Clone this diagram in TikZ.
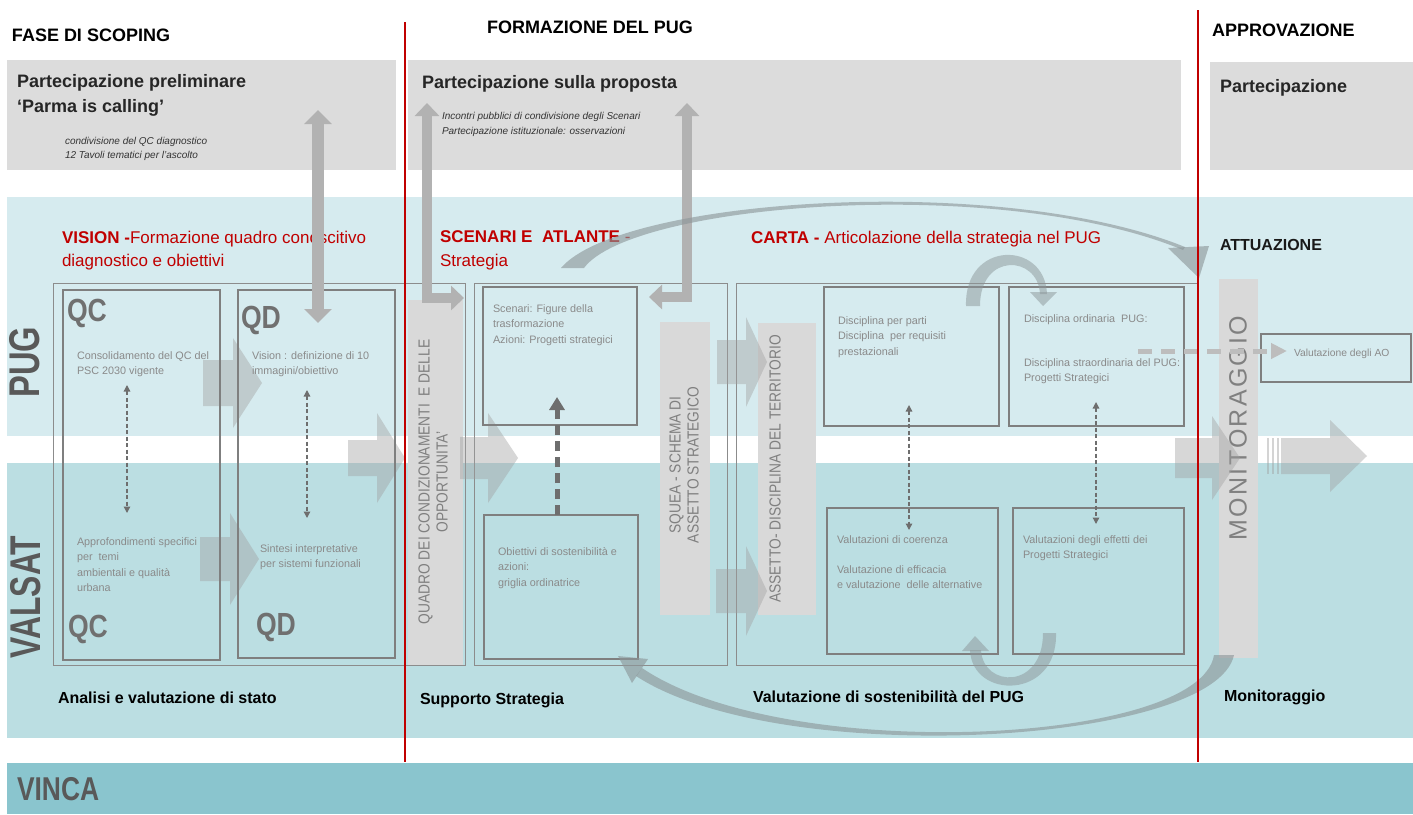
\documentclass[tikz,border=0pt]{standalone}
\usepackage{fontspec}
\usepackage{graphicx}
\setmainfont{Liberation Sans}
\usetikzlibrary{arrows.meta}

\definecolor{partgrey}{HTML}{DCDCDC}
\definecolor{pugband}{HTML}{D6EBEF}
\definecolor{valband}{HTML}{BBDEE2}
\definecolor{vincaband}{HTML}{8AC5CE}
\definecolor{colgrey}{HTML}{D9D9D9}
\definecolor{framegrey}{HTML}{8C8C8C}
\definecolor{boxgrey}{HTML}{7F7F7F}
\definecolor{txtgrey}{HTML}{8A8A8A}
\definecolor{coltxt}{HTML}{808080}
\definecolor{qcgrey}{HTML}{707070}
\definecolor{bigtxt}{HTML}{595959}
\definecolor{redc}{HTML}{C00000}
\definecolor{notek}{HTML}{333333}
\definecolor{arrowfill}{HTML}{A0A0A0}
\definecolor{partarr}{HTML}{B2B2B2}
\definecolor{dashgrey}{HTML}{6E6E6E}
\definecolor{lightdash}{HTML}{BDBDBD}
\definecolor{arcfill}{HTML}{8C9699}

\newcommand\fsz[2]{\fontsize{#1}{#2}\selectfont}
\newcommand\txtlines[1]{\begin{tabular}[t]{@{}l@{}}#1\end{tabular}}
\newcommand\ctxtlines[1]{\begin{tabular}{@{}c@{}}#1\end{tabular}}
% rectangle node from its two corners (pixel-like units)
\newcommand\rectnode[6]{\node[#1, anchor=north west, inner sep=0pt, outer sep=0pt,
  minimum width={#5pt-#3pt}, minimum height={#6pt-#4pt}] (#2) at (#3,#4) {};}
% horizontal block arrow: x start, x tip, y centre, shaft half, head half, head length
\newcommand\blockarrow[6]{\fill[blockar] (#1,#3-#4) -- (#2-#6,#3-#4) -- (#2-#6,#3-#5)
  -- (#2,#3) -- (#2-#6,#3+#5) -- (#2-#6,#3+#4) -- (#1,#3+#4) -- cycle;}

\tikzset{
  partbox/.style={fill=partgrey},
  frame/.style={draw=framegrey, line width=0.9pt},
  ibox/.style={draw=boxgrey, line width=2.8pt},
  column/.style={fill=colgrey},
  txt/.style={inner sep=0pt, outer sep=0pt},
  phase/.style={txt, anchor=base west, font=\bfseries\fsz{18}{22}, text=black},
  parttitle/.style={txt, anchor=base west, font=\bfseries\fsz{18}{25}, text=black!85},
  partnote/.style={txt, anchor=base west, font=\itshape\fsz{10}{14.5}, text=notek},
  redtitle/.style={txt, anchor=base west, font=\fsz{17}{23.5}, text=redc},
  bottomlabel/.style={txt, anchor=base west, font=\bfseries\fsz{16}{20}, text=black},
  boxtext/.style={txt, anchor=base west, font=\fsz{10.8}{15.5}, text=txtgrey},
  coltext/.style={txt, rotate=90, font=\fsz{16}{18}, text=coltxt},
  bigqc/.style={txt, anchor=base west, font=\bfseries\fsz{32}{32}, text=qcgrey},
  sidelabel/.style={txt, rotate=90, font=\bfseries\fsz{43}{43}, text=bigtxt},
  blockar/.style={fill=arrowfill, fill opacity=0.42},
  partarrow/.style={draw=partarr, line width=12pt, line join=miter,
    {Triangle[width=27pt,length=14pt]}-{Triangle[width=27pt,length=14pt]}},
  partarrowL/.style={draw=partarr, line width=10pt, line join=miter,
    {Triangle[width=24pt,length=13pt]}-{Triangle[width=24pt,length=13pt]}},
  dasharrow/.style={draw=dashgrey, line width=1.3pt, dash pattern=on 4pt off 2.5pt,
    {Triangle[width=6.5pt,length=6.5pt]}-{Triangle[width=6.5pt,length=6.5pt]}},
  thickdash/.style={draw=dashgrey, line width=5pt, dash pattern=on 10pt off 6pt,
    -{Triangle[width=15pt,length=13pt]}},
  lightdasharrow/.style={draw=lightdash, line width=5pt, dash pattern=on 14pt off 9pt,
    -{Triangle[width=15pt,length=16pt]}},
  arc/.style={fill=arcfill, fill opacity=0.62},
  phaseline/.style={draw=redc, line width=1.8pt},
}

\begin{document}
\begin{tikzpicture}[x=1pt,y=-1pt]
\useasboundingbox (0,0) rectangle (1413,814);

% horizontal bands
\fill[pugband] (7,197) rectangle (1413,436);
\fill[valband] (7,463) rectangle (1413,738);
\fill[vincaband] (7,763) rectangle (1413,814);

% participation boxes
\rectnode{partbox}{pprel}{7}{60}{396}{170}
\rectnode{partbox}{pprop}{408}{60}{1181}{170}
\rectnode{partbox}{papp}{1210}{62}{1413}{170}

% phase headings
\node[phase] (hscop) at (12,41.5) {FASE DI SCOPING};
\node[phase] (hform) at (487,33) {FORMAZIONE DEL PUG};
\node[phase] (happ) at (1212,36.5) {APPROVAZIONE};

% participation texts
\node[parttitle] (tprel) at (17,87.5) {\txtlines{Partecipazione preliminare\\‘Parma is calling’}};
\node[partnote] (nprel) at (65,144) {\txtlines{condivisione del QC diagnostico\\12 Tavoli tematici per l’ascolto}};
\node[parttitle] (tprop) at (422,88) {Partecipazione sulla proposta};
\node[partnote] (nprop) at (442,119.5) {\txtlines{Incontri pubblici di condivisione degli Scenari\\Partecipazione istituzionale: osservazioni}};
\node[parttitle] (tapp) at (1220,92) {Partecipazione};

% side labels
\node[sidelabel] (lpug) at (25,362) {\scalebox{0.76}[1]{PUG}};
\node[sidelabel] (lvalsat) at (26,597) {\scalebox{0.74}[1]{VALSAT}};
\node[txt, anchor=base west, font=\bfseries\fsz{33}{33}, text=bigtxt] (lvinca) at (17,800) {\scalebox{0.8}[1]{VINCA}};

% outer frames
\rectnode{frame}{fr1}{53}{283}{465}{665}
\rectnode{frame}{fr2}{474}{283}{727}{665}
\rectnode{frame}{fr3}{736}{283}{1198}{665}

% grey columns
\rectnode{column}{cquadro}{408}{300}{463}{665}
\rectnode{column}{csquea}{660}{322}{710}{615}
\rectnode{column}{cassetto}{758}{323}{816}{615}
\rectnode{column}{cmonit}{1219}{279}{1258}{658}

\node[coltext] (tquadro) at (435,482) {\scalebox{0.86}[1]{\ctxtlines{QUADRO DEI CONDIZIONAMENTI\ \ E DELLE\\OPPORTUNITA'}}};
\node[coltext] (tsquea) at (686,465) {\scalebox{0.86}[1]{\ctxtlines{SQUEA - SCHEMA DI\\ASSETTO STRATEGICO}}};
\node[coltext] (tassetto) at (775,469) {\scalebox{0.86}[1]{ASSETTO- DISCIPLINA DEL TERRITORIO}};
\node[coltext, font=\fsz{25}{25}\addfontfeature{LetterSpace=9}] (tmonit) at (1238,428) {MONITORAGGIO};

% block arrows
\blockarrow{203}{262}{383}{23}{45}{29}
\blockarrow{200}{259}{559}{22}{46}{29}
\blockarrow{348}{405}{458}{18}{45}{28}
\blockarrow{460}{518}{458}{21}{45}{30}
\blockarrow{717}{767}{362}{22}{45}{21}
\blockarrow{716}{767}{591}{22}{45}{21}
\blockarrow{1175}{1240}{458}{20}{42}{28}
\blockarrow{1281}{1367}{456}{18}{36}{37}
\foreach \sx in {1268,1273,1278}
  \draw[draw=arrowfill, draw opacity=0.45, line width=1.4pt] (\sx,438) -- (\sx,474);

% inner boxes
\rectnode{ibox}{qc}{63}{290}{220}{660}
\rectnode{ibox}{qd}{238}{290}{395}{658}
\rectnode{ibox}{scen}{483}{287}{637}{425}
\rectnode{ibox}{obj}{484}{515}{638}{659}
\rectnode{ibox}{dpp}{824}{287}{999}{426}
\rectnode{ibox}{dord}{1009}{287}{1184}{426}
\rectnode{ibox}{vcoe}{827}{508}{998}{654}
\rectnode{ibox}{veff}{1013}{508}{1184}{654}
\rectnode{ibox}{vao}{1261}{334}{1411}{382}

% big QC / QD marks
\node[bigqc] (qc1) at (67,321.5) {\scalebox{0.83}[1]{QC}};
\node[bigqc] (qd1) at (241,328) {\scalebox{0.83}[1]{QD}};
\node[bigqc] (qc2) at (68,637) {\scalebox{0.83}[1]{QC}};
\node[bigqc] (qd2) at (256,635) {\scalebox{0.83}[1]{QD}};

% section titles
\node[redtitle] (tvision) at (62,243) {\txtlines{\textbf{VISION -}Formazione quadro conoscitivo\\diagnostico e obiettivi}};
\node[redtitle] (tscen) at (440,242.5) {\txtlines{\textbf{SCENARI E\ \ ATLANTE} -\\Strategia}};
\node[redtitle] (tcarta) at (751,243) {\textbf{CARTA -} Articolazione della strategia nel PUG};
\node[txt, anchor=base west, font=\bfseries\fsz{16}{20}, text=black!90] (tattu) at (1220,250) {ATTUAZIONE};

% bottom labels
\node[bottomlabel] (banal) at (58,703) {Analisi e valutazione di stato};
\node[bottomlabel] (bsupp) at (420,704) {Supporto Strategia};
\node[bottomlabel] (bval) at (753,702) {Valutazione di sostenibilità del PUG};
\node[bottomlabel] (bmon) at (1224,701) {Monitoraggio};

% box texts
\node[boxtext] (xqc1) at (77,359) {\txtlines{Consolidamento del QC del\\PSC 2030 vigente}};
\node[boxtext] (xqc2) at (77,545) {\txtlines{Approfondimenti specifici\\per\ \ temi\\ambientali e qualità\\urbana}};
\node[boxtext] (xqd1) at (252,359) {\txtlines{Vision : definizione di 10\\immagini/obiettivo}};
\node[boxtext] (xqd2) at (260,552) {\txtlines{Sintesi interpretative\\per sistemi funzionali}};
\node[boxtext] (xscen) at (493,312) {\txtlines{Scenari: Figure della\\trasformazione\\Azioni: Progetti strategici}};
\node[boxtext] (xobj) at (498,555) {\txtlines{Obiettivi di sostenibilità e\\azioni:\\griglia ordinatrice}};
\node[boxtext] (xdpp) at (838,324) {\txtlines{Disciplina per parti\\Disciplina\ \ per requisiti\\prestazionali}};
\node[boxtext] (xdord1) at (1024,322) {Disciplina ordinaria\ \ PUG:};
\node[boxtext] (xdord2) at (1024,366) {\txtlines{Disciplina straordinaria del PUG:\\Progetti Strategici}};
\node[boxtext] (xcoe1) at (837,543) {Valutazioni di coerenza};
\node[boxtext] (xcoe2) at (837,573) {\txtlines{Valutazione di efficacia\\e valutazione\ \ delle alternative}};
\node[boxtext] (xeff) at (1023,543) {\txtlines{Valutazioni degli effetti dei\\Progetti Strategici}};
\node[boxtext, font=\fsz{10.3}{14}] (xao) at (1294,356) {Valutazione degli AO};

% participation links
\coordinate (pprelA) at (318,110);
\coordinate (qdA) at (318,323);
\draw[partarrow] (pprelA) -- (qdA);
\coordinate (ppropL) at (427,103);
\coordinate (ppropLb) at (427,298);
\coordinate (fr2L) at (464,298);
\draw[partarrowL] (ppropL) -- (ppropLb) -- (fr2L);
\coordinate (ppropR) at (687,103);
\coordinate (ppropRb) at (687,297);
\coordinate (scenR) at (649,297);
\draw[partarrowL] (ppropR) -- (ppropRb) -- (scenR);

% dashed links between PUG and VALSAT
\draw[dasharrow] (127,385) -- (127,513);
\draw[dasharrow] (307,390) -- (307,518);
\coordinate (objN) at (557,515);
\coordinate (scenS) at (557,397);
\draw[thickdash] (objN) -- (scenS);
\draw[dasharrow] (909,405) -- (909,530);
\draw[dasharrow] (1096,402) -- (1096,524);
\coordinate (dordE) at (1138,351);
\coordinate (aoW) at (1287,351);
\draw[lightdasharrow] (dordE) -- (aoW);

% curved arrows
\fill[arc] (561,268) .. controls (620,198) and (1000,172) .. (1185,247)
  -- (1183,250) .. controls (1000,174) and (632,203) .. (584,268) -- cycle;
\fill[arc] (1168,248) -- (1209,246) -- (1199,278) -- cycle;
\fill[arc] (1234,655) .. controls (1215,745) and (780,770) .. (636,676)
  -- (642,668) .. controls (785,765) and (1200,745) .. (1214,655) -- cycle;
\fill[arc] (618,656) -- (648,659) -- (632,683) -- cycle;
\fill[arc, fill opacity=0.5] (966,306) .. controls (964,240) and (1045,240) .. (1047,294)
  -- (1040,294) .. controls (1038,255) and (980,252) .. (980,306) -- cycle;
\fill[arc, fill opacity=0.5] (1030,292) -- (1057,292) -- (1043,306) -- cycle;
\fill[arc, fill opacity=0.5] (1056,633) .. controls (1058,700) and (972,700) .. (970,650)
  -- (981,650) .. controls (983,688) and (1043,690) .. (1043,633) -- cycle;
\fill[arc, fill opacity=0.5] (962,651) -- (989,651) -- (975,636) -- cycle;

% phase separators
\draw[phaseline] (405,22) -- (405,762);
\draw[phaseline] (1198,10) -- (1198,762);
\end{tikzpicture}
\end{document}
